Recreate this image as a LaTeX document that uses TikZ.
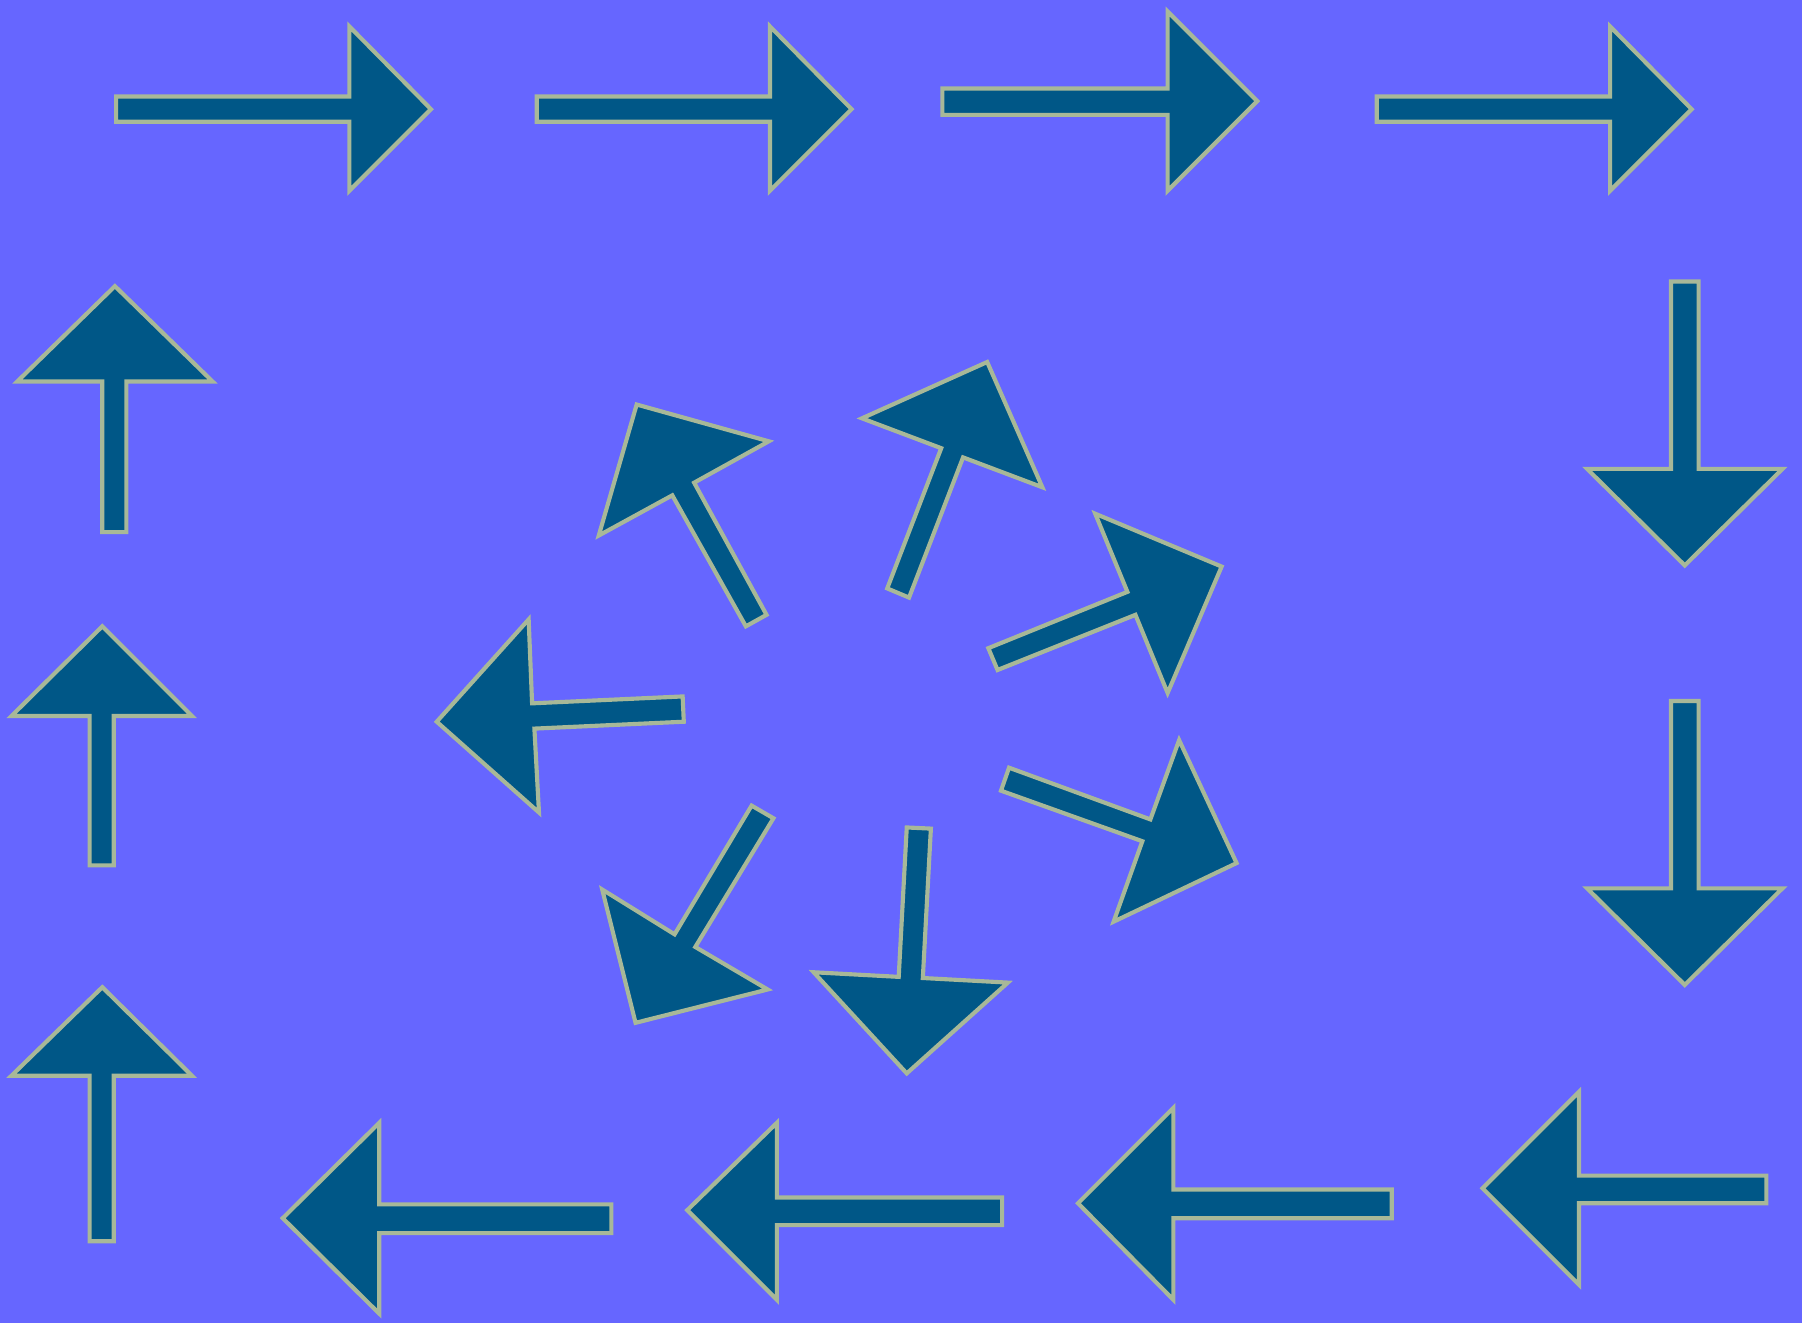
\documentclass[tikz,border=0pt]{standalone}
\definecolor{bgblue}{RGB}{102,102,255}
\definecolor{arrfill}{RGB}{0,87,135}
\definecolor{arrline}{RGB}{168,184,152}
\begin{document}
\begin{tikzpicture}[x=0.25mm,y=-0.25mm,
  arrowshape/.style={fill=arrfill,draw=arrline,line width=0.9mm,line join=miter}]
\fill[bgblue] (0,0) rectangle (1568,1151);
\useasboundingbox (0,0) rectangle (1568,1151);
% top row
\draw[arrowshape] (101,84)--(304,84)--(304,23)--(375,95)--(304,166)--(304,106)--(101,106)--cycle;
\draw[arrowshape] (467,84)--(670,84)--(670,23)--(741,95)--(670,166)--(670,106)--(467,106)--cycle;
\draw[arrowshape] (820,77)--(1016,77)--(1016,10)--(1094,88)--(1016,166)--(1016,100)--(820,100)--cycle;
\draw[arrowshape] (1198,84)--(1401,84)--(1401,23)--(1472,95)--(1401,166)--(1401,106)--(1198,106)--cycle;
% right column
\draw[arrowshape] (1454,245)--(1478,245)--(1478,408)--(1551,408)--(1466,492)--(1381,408)--(1454,408)--cycle;
\draw[arrowshape] (1454,610)--(1478,610)--(1478,773)--(1551,773)--(1466,857)--(1381,773)--(1454,773)--cycle;
% bottom row
\draw[arrowshape] (1537,1023)--(1374,1023)--(1374,950)--(1290,1034)--(1374,1118)--(1374,1047)--(1537,1047)--cycle;
\draw[arrowshape] (1211,1035)--(1021,1035)--(1021,964)--(938,1047)--(1021,1131)--(1021,1060)--(1211,1060)--cycle;
\draw[arrowshape] (872,1042)--(676,1042)--(676,977)--(598,1053)--(676,1131)--(676,1066)--(872,1066)--cycle;
\draw[arrowshape] (532,1048)--(330,1048)--(330,977)--(246,1060)--(330,1143)--(330,1073)--(532,1073)--cycle;
% left column
\draw[arrowshape] (78,1080)--(99,1080)--(99,936)--(167,936)--(89,859)--(10,936)--(78,936)--cycle;
\draw[arrowshape] (78,753)--(99,753)--(99,623)--(167,623)--(89,545)--(10,623)--(78,623)--cycle;
\draw[arrowshape] (89,463)--(110,463)--(110,332)--(185,332)--(100,249)--(15,332)--(89,332)--cycle;
% pinwheel
\draw[arrowshape] (649,545)--(585,431)--(521,466)--(554,352)--(669,384)--(604,420)--(667,535)--cycle;
\draw[arrowshape] (772,512)--(819,390)--(750,364)--(859,315)--(907,424)--(838,398)--(791,520)--cycle;
\draw[arrowshape] (860,564)--(981,515)--(953,447)--(1063,493)--(1016,603)--(988,535)--(868,583)--cycle;
\draw[arrowshape] (878,668)--(1001,713)--(1026,644)--(1076,751)--(969,802)--(994,732)--(871,688)--cycle;
\draw[arrowshape] (789,720)--(810,721)--(803,851)--(877,855)--(789,934)--(708,846)--(782,850)--cycle;
\draw[arrowshape] (654,701)--(673,712)--(605,824)--(668,861)--(553,890)--(524,774)--(587,813)--cycle;
\draw[arrowshape] (594,606)--(595,628)--(465,634)--(469,707)--(380,628)--(460,539)--(463,612)--cycle;
\end{tikzpicture}
\end{document}
